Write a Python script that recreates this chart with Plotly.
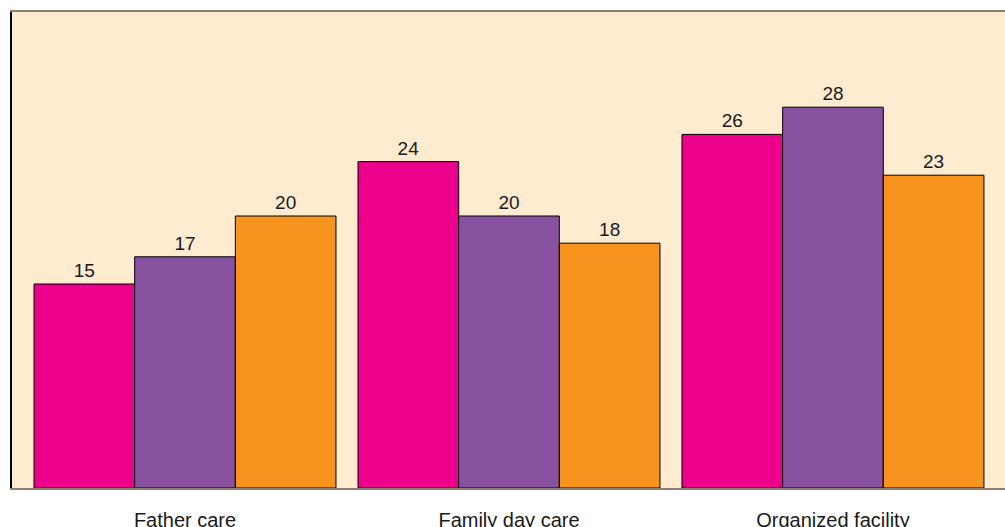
import plotly.graph_objects as go

categories = ["Father care", "Family day care", "Organized facility"]
series_names = ["Series 1", "Series 2", "Series 3"]
series_values = [
    [15, 24, 26],
    [17, 20, 28],
    [20, 18, 23],
]
colors = ["#EC008C", "#8852A0", "#F7941D"]

xpos = list(range(len(categories)))

fig = go.Figure()
for name, vals, col in zip(series_names, series_values, colors):
    fig.add_trace(go.Bar(
        x=xpos, y=vals, name=name,
        marker=dict(color=col, line=dict(color="#000000", width=1)),
        text=[str(v) for v in vals], textposition="outside",
        textfont=dict(family="Liberation Sans, Arial, sans-serif", size=19, color="#1a1a1a"),
        cliponaxis=False,
    ))

fig.update_layout(
    width=1005, height=527,
    margin=dict(l=12, r=0, t=12, b=39),
    paper_bgcolor="#FFFFFF",
    plot_bgcolor="#FEEBD0",
    barmode="group",
    bargap=0.068,
    bargroupgap=0,
    showlegend=False,
    font=dict(family="Liberation Sans, Arial, sans-serif", color="#1a1a1a"),
    xaxis=dict(
        range=[-0.534, 2.531],
        tickvals=xpos, ticktext=categories,
        tickfont=dict(size=20),
        showgrid=False, zeroline=False,
        showline=True, linecolor="#8C7F6E", linewidth=2, mirror=True,
        ticks="", ticklabelstandoff=13, automargin=False,
    ),
    yaxis=dict(
        range=[0, 35],
        showgrid=False, zeroline=False, showticklabels=False,
        showline=True, linecolor="#000000", linewidth=1.5,
        ticks="", automargin=False,
    ),
)

fig.write_html("out.html")
